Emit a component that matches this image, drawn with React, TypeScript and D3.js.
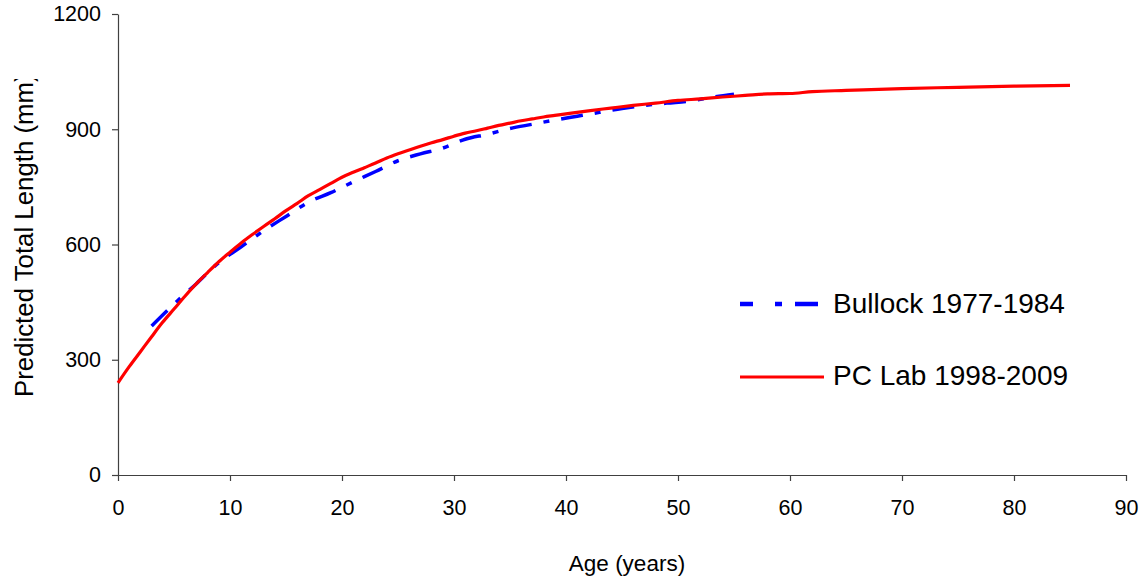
import { useEffect, useRef } from "react"
import * as d3 from "d3"

// Age (years) and predicted total length (mm)
const pcLabAges = [
  0, 1, 2, 3, 4, 5, 6, 7, 8, 9, 10, 11, 12, 13, 14, 15, 16, 17, 18, 19, 20, 21, 22, 23, 24, 25, 26, 27, 28,
  29, 30, 31, 32, 33, 34, 35, 36, 37, 38, 39, 40, 42, 44, 46, 48, 50, 52, 54, 56, 58, 60, 62, 65, 70, 75, 80,
  85,
]
const pcLabLengths = [
  240, 282, 321, 360, 398, 432, 466, 498, 527, 555, 580, 604, 626, 647, 667, 688, 707, 727, 743, 759, 775,
  788, 800, 812, 825, 836, 846, 856, 865, 873, 882, 890, 896, 903, 910, 916, 922, 927, 932, 936, 940, 948,
  955, 962, 968, 975, 979, 984, 988, 992, 993, 998, 1001, 1006, 1009, 1012, 1014,
]

const bullockAges = [3, 5, 7, 9, 11, 13, 15, 17, 19, 21, 23, 25, 27, 29, 31, 33, 35, 37, 39, 41, 43, 45, 47, 49, 51, 53, 55]
const bullockLengths = [
  388, 445, 498, 553, 594, 636, 673, 710, 735, 763, 790, 818, 836, 851, 874, 887, 902, 913, 924, 934, 944,
  954, 962, 968, 973, 983, 991,
]

const xTicks = [0, 10, 20, 30, 40, 50, 60, 70, 80, 90]
const yTicks = [0, 300, 600, 900, 1200]

const seriesNames = ["Bullock 1977-1984", "PC Lab 1998-2009"]

const WIDTH = 1145
const HEIGHT = 582
const FONT = "Liberation Sans, Arial, sans-serif"

export default function App() {
  const svgRef = useRef<SVGSVGElement>(null)

  useEffect(() => {
    const svg = d3.select(svgRef.current)
    svg.selectAll("*").remove()

    const plot = { left: 118, right: 1126, top: 14, bottom: 475 }
    const axisColor = "#404040"

    const x = d3.scaleLinear().domain([0, 90]).range([plot.left, plot.right])
    const y = d3.scaleLinear().domain([0, 1200]).range([plot.bottom, plot.top])

    // Axes
    const yAxis = svg
      .append("g")
      .attr("transform", `translate(${plot.left},0)`)
      .call(
        d3
          .axisLeft(y)
          .tickValues(yTicks)
          .tickFormat(d3.format("d"))
          .tickSize(6)
          .tickSizeOuter(0)
      )
    yAxis.select(".domain").attr("stroke", axisColor).attr("stroke-width", 1.2)
    yAxis.selectAll(".tick line").attr("stroke", axisColor).attr("stroke-width", 1.2)
    yAxis
      .selectAll(".tick text")
      .attr("font-family", FONT)
      .attr("font-size", 21.5)
      .attr("fill", "#000")
      .attr("x", -17)

    const xAxis = svg
      .append("g")
      .attr("transform", `translate(0,${plot.bottom})`)
      .call(d3.axisBottom(x).tickValues(xTicks).tickSize(6).tickSizeOuter(0).tickPadding(19))
    xAxis.select(".domain").attr("stroke", axisColor).attr("stroke-width", 1.2)
    xAxis.selectAll(".tick line").attr("stroke", axisColor).attr("stroke-width", 1.2)
    xAxis
      .selectAll(".tick text")
      .attr("font-family", FONT)
      .attr("font-size", 21.5)
      .attr("fill", "#000")

    // Axis titles
    svg
      .append("text")
      .attr("x", 627)
      .attr("y", 571)
      .attr("text-anchor", "middle")
      .attr("font-family", FONT)
      .attr("font-size", 22.5)
      .text("Age (years)")

    // the original label is cut off through the closing bracket
    svg
      .append("clipPath")
      .attr("id", "ylabel-clip")
      .append("rect")
      .attr("x", 0)
      .attr("y", 79)
      .attr("width", 60)
      .attr("height", 400)

    svg
      .append("g")
      .attr("clip-path", "url(#ylabel-clip)")
      .append("text")
      .attr("transform", "translate(33,397) rotate(-90)")
      .attr("font-family", FONT)
      .attr("font-size", 25.8)
      .attr("fill", "#000")
      .text("Predicted Total Length (mm)")

    // Lines
    const line = d3
      .line<[number, number]>()
      .x((d) => x(d[0]))
      .y((d) => y(d[1]))
      .curve(d3.curveMonotoneX)

    const bullock = bullockAges.map((a, i) => [a, bullockLengths[i]] as [number, number])
    const pcLab = pcLabAges.map((a, i) => [a, pcLabLengths[i]] as [number, number])

    svg
      .append("path")
      .datum(bullock)
      .attr("fill", "none")
      .attr("stroke", "#0000ff")
      .attr("stroke-width", 3.5)
      .attr("stroke-dasharray", "22,12,6,12")
      .attr("d", line)

    svg
      .append("path")
      .datum(pcLab)
      .attr("fill", "none")
      .attr("stroke", "#ff0000")
      .attr("stroke-width", 3.2)
      .attr("stroke-linejoin", "round")
      .attr("d", line)

    // Legend
    const legend = svg.append("g")
    legend
      .append("line")
      .attr("x1", 740)
      .attr("x2", 818)
      .attr("y1", 304)
      .attr("y2", 304)
      .attr("stroke", "#0000ff")
      .attr("stroke-width", 4.5)
      .attr("stroke-dasharray", "13,22,7,13,23")
    legend
      .append("line")
      .attr("x1", 740)
      .attr("x2", 824)
      .attr("y1", 377)
      .attr("y2", 377)
      .attr("stroke", "#ff0000")
      .attr("stroke-width", 3.2)

    legend
      .selectAll("text.lbl")
      .data(seriesNames)
      .join("text")
      .attr("class", "lbl")
      .attr("x", 833)
      .attr("y", (_, i) => (i === 0 ? 313 : 385))
      .attr("font-family", FONT)
      .attr("font-size", 28)
      .attr("fill", "#000")
      .text((d) => d)
  }, [])

  return (
    <svg
      ref={svgRef}
      width={WIDTH}
      height={HEIGHT}
      style={{ position: "absolute", left: 0, top: 0, background: "#fff" }}
    />
  )
}
